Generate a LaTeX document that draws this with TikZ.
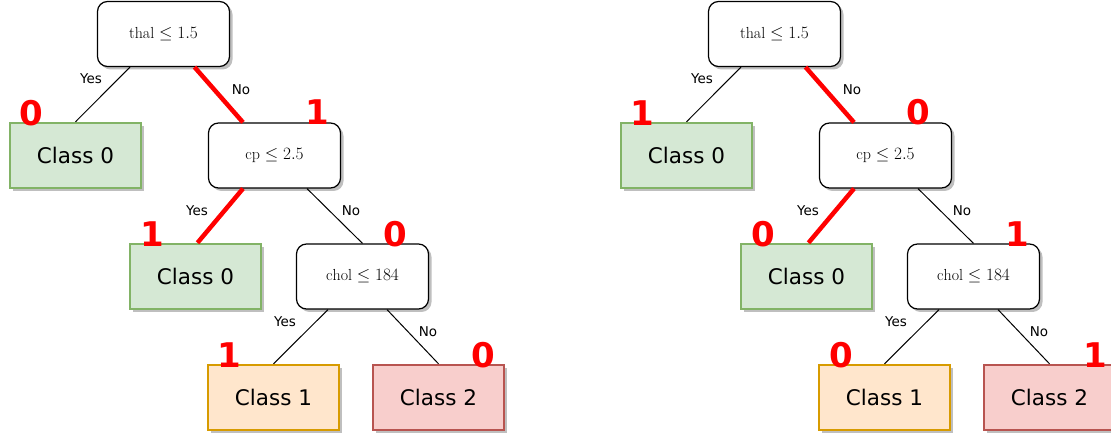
\documentclass[tikz,border=0pt]{standalone}
\usepackage{fontspec}
\newfontfamily\dejavu{DejaVu Sans}
\usetikzlibrary{calc}
\definecolor{fillzero}{HTML}{D5E8D4}
\definecolor{linezero}{HTML}{82B366}
\definecolor{fillone}{HTML}{FFE6CC}
\definecolor{lineone}{HTML}{D79B00}
\definecolor{filltwo}{HTML}{F8CECC}
\definecolor{linetwo}{HTML}{B85450}

% One decision tree: three split nodes, four class leaves, the connectors
% and their Yes/No labels. #1 is the prefix of the node names.
\newcommand\dtree[1]{%
  \node[split] (#1A) at (163.5,34)  {$\mathrm{thal}\leq 1.5$};
  \node[cls0]  (#1B) at (75.5,155.5) {Class 0};
  \node[split] (#1C) at (274.5,155.5) {$\mathrm{cp}\leq 2.5$};
  \node[cls0]  (#1D) at (195.5,276.5) {Class 0};
  \node[split] (#1E) at (362.5,276.5) {$\mathrm{chol}\leq 184$};
  \node[cls1]  (#1F) at (273.5,397.5) {Class 1};
  \node[cls2]  (#1G) at (438.5,397.5) {Class 2};
  \draw[link] ($(#1A.south)+(-33.5,0)$) -- (#1B.north);
  \draw[hot]  ($(#1A.south)+(31,0)$) -- ($(#1C.north)+(-31.5,0)$);
  \draw[hot]  ($(#1C.south)+(-31.5,0)$) -- ($(#1D.north)+(2,0)$);
  \draw[link] ($(#1C.south)+(32.5,0)$) -- (#1E.north);
  \draw[link] ($(#1E.south)+(-34.5,0)$) -- (#1F.north);
  \draw[link] ($(#1E.south)+(24.5,0)$) -- (#1G.north);
  \node[answer] (#1yA) at (91,79)   {Yes};
  \node[answer] (#1nA) at (241,90)  {No};
  \node[answer] (#1yC) at (197,211) {Yes};
  \node[answer] (#1nC) at (351,211) {No};
  \node[answer] (#1yE) at (285,322) {Yes};
  \node[answer] (#1nE) at (428,332) {No};
}

\begin{document}
\begin{tikzpicture}[x=1pt,y=-1pt,
  dropshadow/.style={preaction={fill=black!25,
      transform canvas={xshift=3pt,yshift=-3pt}}},
  split/.style={dropshadow, draw=black, line width=1.2pt, fill=white,
    rounded corners=10pt, minimum width=132pt, minimum height=65pt,
    inner sep=0pt, font=\fontsize{16}{19}\selectfont},
  leaf/.style={dropshadow, line width=2.4pt, minimum width=131pt,
    minimum height=65pt, inner sep=0pt,
    font=\dejavu\fontsize{21.5}{25}\selectfont},
  cls0/.style={leaf, draw=linezero, fill=fillzero},
  cls1/.style={leaf, draw=lineone, fill=fillone},
  cls2/.style={leaf, draw=linetwo, fill=filltwo},
  link/.style={draw=black, line width=1pt},
  hot/.style={draw=red, line width=4.5pt},
  answer/.style={font=\dejavu\fontsize{13.5}{16}\selectfont, inner sep=0pt},
  flag/.style={font=\dejavu\bfseries\fontsize{34}{40}\selectfont,
    text=red, inner sep=0pt}
]
\useasboundingbox (0,0) rectangle (1111,438);
\clip (0,0) rectangle (1111,438);

% left tree
\dtree{L}
\node[flag] (Lfb) at (31,113)  {0};
\node[flag] (Lfc) at (317,112) {1};
\node[flag] (Lfd) at (152,234) {1};
\node[flag] (Lfe) at (395,234) {0};
\node[flag] (Lff) at (229,355) {1};
\node[flag] (Lfg) at (483,355) {0};

% right tree
\begin{scope}[xshift=611pt]
\dtree{R}
\node[flag] (Rfb) at (31,113)   {1};
\node[flag] (Rfc) at (307,112)  {0};
\node[flag] (Rfd) at (152,234)  {0};
\node[flag] (Rfe) at (406.5,234) {1};
\node[flag] (Rff) at (230,355)  {0};
\node[flag] (Rfg) at (484,355)  {1};
\end{scope}
\end{tikzpicture}
\end{document}
